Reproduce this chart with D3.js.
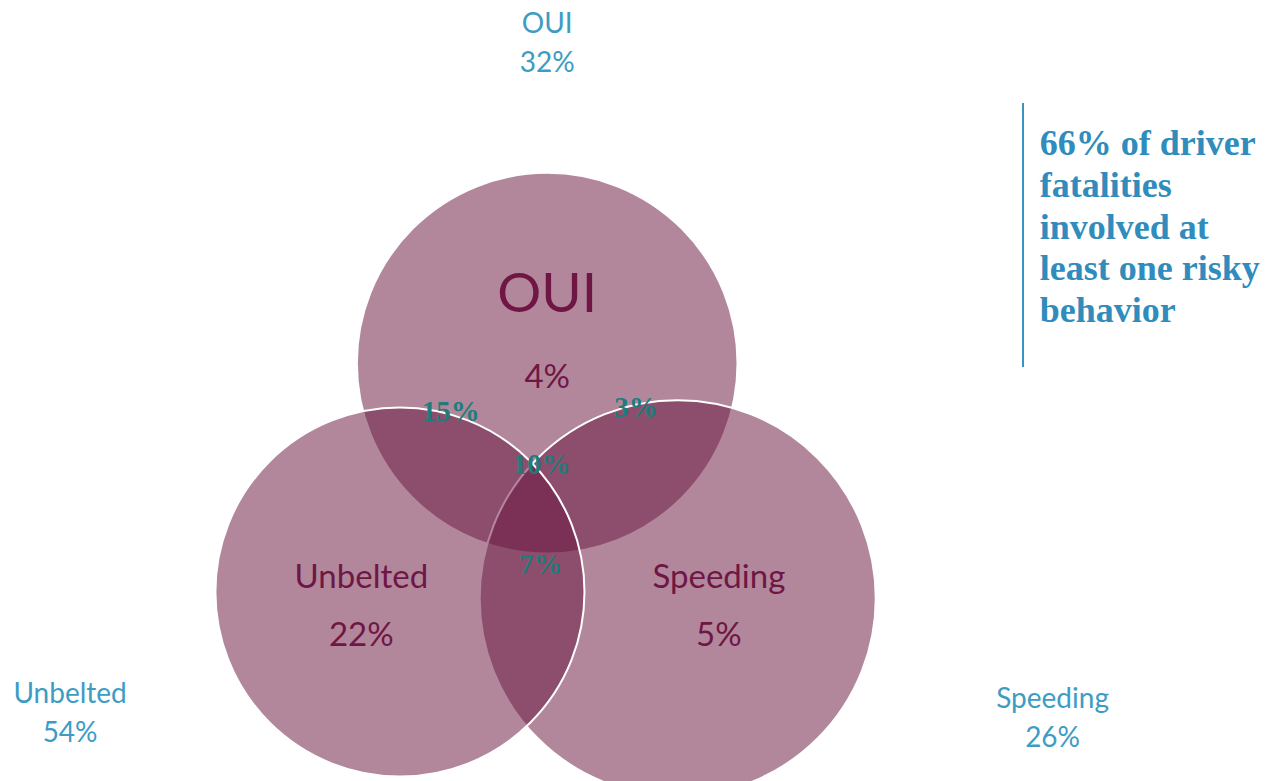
<!DOCTYPE html>
<html>
<head>
<meta charset="utf-8">
<title>Risky behaviours among driver fatalities</title>
<script src="https://d3js.org/d3.v7.min.js"></script>
<style>
  body { margin: 0; background: #fff; }
  svg { display: block; }
  .inner { font-family: Lato, "Open Sans", sans-serif; fill: #6f1644; }
  .outer { font-family: Lato, "Open Sans", sans-serif; fill: #3d9cc4; }
  .overlap { font-family: "Liberation Serif", "DejaVu Serif", serif; font-weight: bold; fill: #1f7c7a; }
  .note { font-family: "Liberation Serif", "DejaVu Serif", serif; font-weight: bold; fill: #2f8cbc; }
</style>
</head>
<body>
<script>
// data
var sets = ["OUI", "Unbelted", "Speeding"];
var totalShare = [32, 54, 26];       // share of fatalities with the behaviour
var onlyShare = [4, 22, 5];           // behaviour alone
var pairs = [["OUI", "Unbelted"], ["OUI", "Speeding"], ["Unbelted", "Speeding"]];
var pairShare = [15, 3, 7];
var allThree = 10;
var noteLines = ["66% of driver", "fatalities", "involved at", "least one risky", "behavior"];

// layout (in a 0..100 unit space, mapped by scales below)
var width = 1286, height = 781;
var x = d3.scaleLinear().domain([0, 100]).range([0, width]);
var y = d3.scaleLinear().domain([0, 100]).range([0, height]);
var r = d3.scaleLinear().domain([0, 100]).range([0, width]);

var circles = {
  OUI:      { cx: 42.55, cy: 46.5, r: 14.8 },
  Unbelted: { cx: 31.1,  cy: 75.8, r: 14.35 },
  Speeding: { cx: 52.7,  cy: 76.6, r: 15.4 }
};
var drawOrder = ["OUI", "Speeding", "Unbelted"];
var titlePos = { OUI: [42.55, 39.9], Unbelted: [28.1, 75.3], Speeding: [55.9, 75.3] };
var outerPos = { OUI: [42.55, 3.1], Unbelted: [5.45, 88.9], Speeding: [81.85, 89.5] };
var pairPos = [[35.05, 52.8], [49.45, 52.3], [42.05, 72.3]];
var centerPos = [42.1, 59.6];

var svg = d3.select("body").append("svg")
    .attr("width", width)
    .attr("height", height);

svg.selectAll("circle.set")
    .data(drawOrder)
  .enter().append("circle")
    .attr("class", "set")
    .attr("cx", function(d) { return x(circles[d].cx); })
    .attr("cy", function(d) { return y(circles[d].cy); })
    .attr("r", function(d) { return r(circles[d].r); })
    .style("fill", "rgb(107,24,65)")
    .style("fill-opacity", 0.52)
    .style("stroke", "#fff")
    .style("stroke-width", 2);

// names and "only" shares inside circles
sets.forEach(function(s, i) {
  var p = titlePos[s];
  svg.append("text").attr("class", "inner")
      .attr("x", x(p[0])).attr("y", y(p[1]))
      .attr("text-anchor", "middle")
      .style("font-size", s == "OUI" ? "55px" : "33px")
      .text(s);
  svg.append("text").attr("class", "inner")
      .attr("x", x(p[0])).attr("y", y(p[1]) + (s == "OUI" ? 76 : 58))
      .attr("text-anchor", "middle")
      .style("font-size", "33px")
      .text(onlyShare[i] + "%");

  var o = outerPos[s];
  svg.append("text").attr("class", "outer")
      .attr("x", x(o[0])).attr("y", y(o[1]) + 9)
      .attr("text-anchor", "middle")
      .style("font-size", "28px")
      .text(s);
  svg.append("text").attr("class", "outer")
      .attr("x", x(o[0])).attr("y", y(o[1]) + 48)
      .attr("text-anchor", "middle")
      .style("font-size", "28px")
      .text(totalShare[i] + "%");
});

// overlaps
svg.selectAll("text.pair")
    .data(pairShare)
  .enter().append("text")
    .attr("class", "overlap pair")
    .attr("x", function(d, i) { return x(pairPos[i][0]); })
    .attr("y", function(d, i) { return y(pairPos[i][1]) + 9; })
    .attr("text-anchor", "middle")
    .style("font-size", "29px")
    .text(function(d) { return d + "%"; });

svg.append("text")
    .attr("class", "overlap")
    .attr("x", x(centerPos[0])).attr("y", y(centerPos[1]) + 9)
    .attr("text-anchor", "middle")
    .style("font-size", "29px")
    .text(allThree + "%");

// side note
svg.append("line")
    .attr("x1", x(79.55)).attr("x2", x(79.55))
    .attr("y1", y(13.2)).attr("y2", y(47))
    .style("stroke", "#3a92c4")
    .style("stroke-width", 2);

svg.selectAll("text.noteline")
    .data(noteLines)
  .enter().append("text")
    .attr("class", "note noteline")
    .attr("x", x(80.85))
    .attr("y", function(d, i) { return y(19.85) + i * 41.8; })
    .style("font-size", "36px")
    .text(function(d) { return d; });
</script>
</body>
</html>
